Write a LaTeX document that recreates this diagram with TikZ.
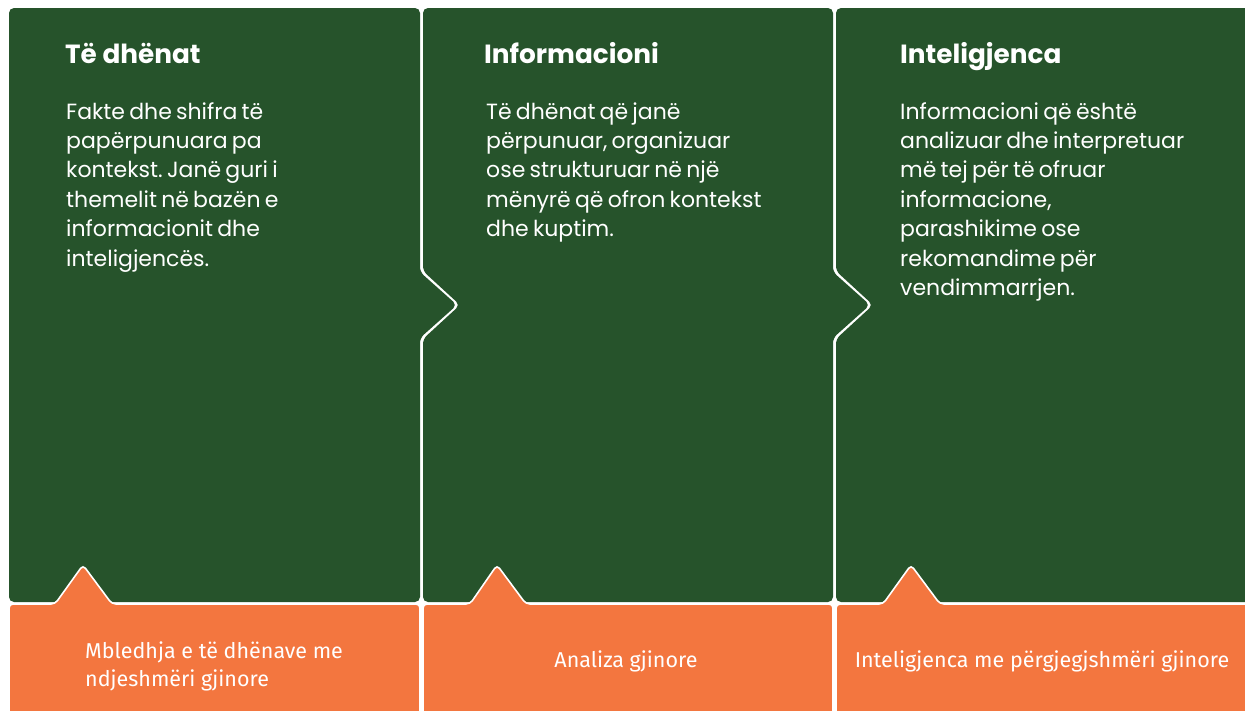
\documentclass[tikz,border=0pt]{standalone}
\usepackage{fontspec}
\setmainfont{Poppins}[WordSpace=0.72]
\newfontfamily\titlefont{Poppins}
\newfontfamily\dinfont{Fira Sans}
\definecolor{dgreen}{RGB}{38,83,43}
\definecolor{orng}{RGB}{243,118,63}
\frenchspacing
\begin{document}
\begin{tikzpicture}[x=1pt,y=-1pt,
  panel/.style={fill=dgreen,rounded corners=5pt},
  tab/.style={fill=orng,draw=white,line width=1.6pt,rounded corners=4pt},
  title/.style={anchor=base west,inner sep=0pt,text=white,font=\titlefont\bfseries\fontsize{26.3}{30}\selectfont},
  body/.style={anchor=base west,inner sep=0pt,text=white,align=left,font=\frenchspacing\fontsize{22}{29.4}\selectfont},
  olabel/.style={anchor=base,inner sep=0pt,text=white,font=\dinfont\fontsize{21.5}{27.5}\selectfont}]
\useasboundingbox (0,0) rectangle (1245,710);
\fill[white] (0,0) rectangle (1245,710);
% green panels
\fill[panel] (9,8) -- (420,8) -- (420,272) -- (457,305) -- (420,338) -- (420,602) -- (9,602) -- cycle;
\fill[panel] (423,8) -- (833,8) -- (833,272) -- (870,305) -- (833,338) -- (833,602) -- (423,602) -- (423,339) -- (460,305) -- (423,271) -- cycle;
\fill[panel] (836,8) -- (1252,8) -- (1252,602) -- (836,602) -- (836,339) -- (873,305) -- (836,271) -- cycle;
% orange tabs
\filldraw[tab] (9,716) -- (9,604) -- (55,604) -- (83,565) -- (112,604) -- (420,604) -- (420,716);
\filldraw[tab] (423,716) -- (423,604) -- (470,604) -- (497,565) -- (526,604) -- (833,604) -- (833,716);
\filldraw[tab] (836,716) -- (836,604) -- (883,604) -- (911,565) -- (940,604) -- (1252,604) -- (1252,716);
% titles
\node[title] (t1) at (65,63) {Të dhënat};
\node[title] (t2) at (484,63) {Informacioni};
\node[title] (t3) at (900,63) {Inteligjenca};
% bodies (base anchor = last line)
\node[body] (b1) at (66,266) {Fakte dhe shifra të\\papërpunuara pa\\kontekst. Janë guri i\\themelit në bazën e\\informacionit dhe\\inteligjencës.};
\node[body] (b2) at (486,236.6) {Të dhënat që janë\\përpunuar, organizuar\\ose strukturuar në një\\mënyrë që ofron kontekst\\dhe kuptim.};
\node[body] (b3) at (900,295.4) {Informacioni që është\\analizuar dhe interpretuar\\më tej për të ofruar\\informacione,\\parashikime ose\\rekomandime për\\vendimmarrjen.};
% orange labels
\node[olabel,anchor=base west] (o1a) at (85,658) {Mbledhja e të dhënave me};
\node[olabel,anchor=base west] (o1b) at (85,686) {ndjeshmëri gjinore};
\node[olabel] (o2) at (626,667) {Analiza gjinore};
\node[olabel] (o3) at (1042,667) {Inteligjenca me përgjegjshmëri gjinore};
\end{tikzpicture}
\end{document}
